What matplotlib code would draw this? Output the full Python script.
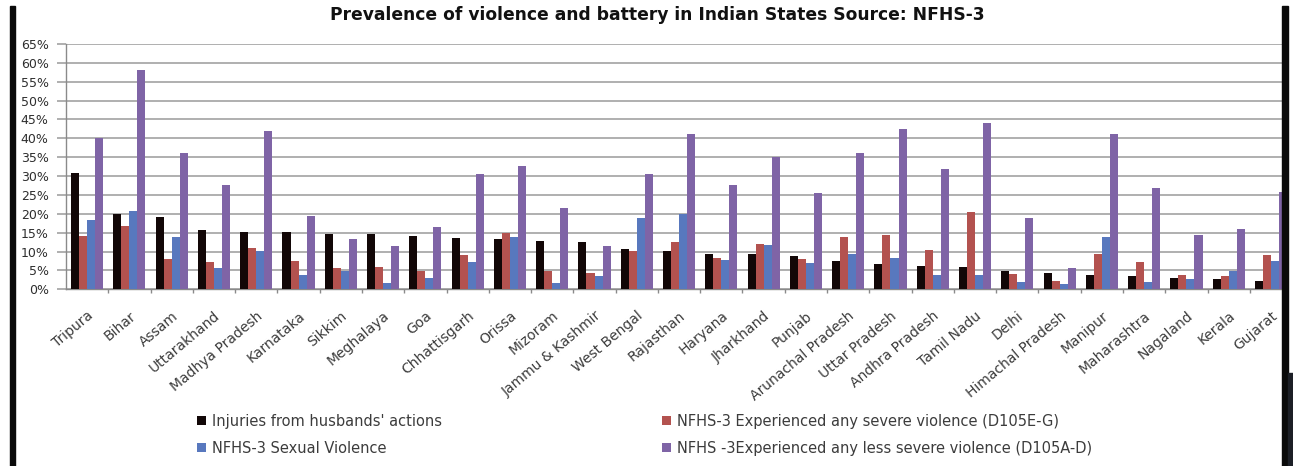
import numpy as np
import matplotlib
matplotlib.use('Agg')
import matplotlib.pyplot as plt
from matplotlib.patches import Rectangle
from matplotlib.ticker import FuncFormatter, FixedLocator

# ── Дані (%) ────────────────────────────────────────────────────────────────
states = ['Tripura', 'Bihar', 'Assam', 'Uttarakhand', 'Madhya Pradesh',
          'Karnataka', 'Sikkim', 'Meghalaya', 'Goa', 'Chhattisgarh', 'Orissa',
          'Mizoram', 'Jammu & Kashmir', 'West Bengal', 'Rajasthan', 'Haryana',
          'Jharkhand', 'Punjab', 'Arunachal Pradesh', 'Uttar Pradesh',
          'Andhra Pradesh', 'Tamil Nadu', 'Delhi', 'Himachal Pradesh',
          'Manipur', 'Maharashtra', 'Nagaland', 'Kerala', 'Gujarat']

injuries = [30.7, 19.9, 19.2, 15.6, 15.3, 15.3, 14.7, 14.7, 14.1, 13.5,
            13.4, 12.9, 12.5, 10.6, 10.2, 9.3, 9.3, 8.8, 7.5, 6.6,
            6.2, 6.0, 4.9, 4.4, 3.8, 3.5, 3.1, 2.7, 2.2]
severe = [14.0, 16.9, 7.9, 7.2, 11.0, 7.5, 5.7, 6.0, 4.9, 9.0,
          14.8, 4.9, 4.2, 10.2, 12.5, 8.2, 12.1, 8.0, 13.8, 14.3,
          10.4, 20.5, 4.0, 2.2, 9.4, 7.2, 3.7, 3.5, 9.1]
sexual = [18.4, 20.7, 13.8, 5.7, 10.2, 3.8, 4.9, 1.6, 3.1, 7.2,
          13.8, 1.6, 3.5, 18.8, 20.0, 7.8, 11.7, 6.9, 9.3, 8.4,
          3.7, 3.7, 2.0, 1.5, 13.8, 2.0, 2.7, 4.9, 7.5]
less_severe = [40.0, 58.0, 36.0, 27.7, 42.0, 19.3, 13.4, 11.6, 16.5, 30.5,
               32.7, 21.6, 11.5, 30.5, 41.1, 27.6, 35.0, 25.4, 36.0, 42.4,
               32.0, 44.0, 18.8, 5.7, 41.2, 26.9, 14.3, 16.0, 25.7]

series_labels = ["Injuries from husbands' actions",
                 'NFHS-3 Experienced any severe violence (D105E-G)',
                 'NFHS-3 Sexual Violence',
                 'NFHS -3Experienced any less severe violence (D105A-D)']

C = dict(inj='#120707', sev='#b3524f', sex='#5878be', less='#7f64a6',
         grid='#9a9a9a', axis='#8a8a8a', text='#3c3c3c')

W, H = 1293, 466
fig = plt.figure(figsize=(W / 100, H / 100), dpi=100)
fig.patch.set_facecolor('white')

# осі: ліво 66px, право 1282px, 0% на 289px, 65% на 44px
ax = fig.add_axes([66 / W, (H - 289.3) / H, (1282 - 66) / W, (289.3 - 44) / H])
ax.set_facecolor('white')

x = np.arange(len(states))
bw = 0.19
offs = [-1.5 * bw, -0.5 * bw, 0.5 * bw, 1.5 * bw]
vals = [injuries, severe, sexual, less_severe]
cols = [C['inj'], C['sev'], C['sex'], C['less']]
bars = []
for o, v, c, lab in zip(offs, vals, cols, series_labels):
    bars.append(ax.bar(x + o, v, width=bw, color=c, label=lab, zorder=3))

ax.set_xlim(-0.5, 28.26)
ax.set_ylim(0, 65)
ax.set_yticks(np.arange(0, 66, 5))
ax.yaxis.set_major_formatter(FuncFormatter(lambda v, p: f'{v:.0f}%'))
ax.grid(axis='y', color=C['grid'], linewidth=1.1, zorder=0)
ax.set_axisbelow(True)

for sp in ['top', 'right']:
    ax.spines[sp].set_visible(False)
for sp in ['left', 'bottom']:
    ax.spines[sp].set_color(C['axis'])
    ax.spines[sp].set_linewidth(1.0)

ax.tick_params(axis='y', length=6.5, color=C['grid'], width=1.1, pad=6,
               labelsize=9, labelcolor='#2e2e2e')
ax.set_xticks(x)
ax.set_xticklabels(states, rotation=40, ha='right', rotation_mode='anchor',
                   fontsize=10, color=C['text'])
ax.tick_params(axis='x', length=0, pad=14)
ax.xaxis.set_minor_locator(FixedLocator(x[:-1] + 0.5))
ax.tick_params(axis='x', which='minor', length=3, color=C['axis'], width=1)

# Заголовок
fig.text(657 / W, 1 - 15 / H,
         'Prevalence of violence and battery in Indian States Source: NFHS-3',
         ha='center', va='center', fontsize=12.3, fontweight='bold',
         color='#111111')

# Легенда — дві колонки (fig.legend сам додає обидві до фігури)
leg_kw = dict(loc='upper left', frameon=False, fontsize=10.5, handlelength=0.6,
              handleheight=0.6, handletextpad=0.45, labelspacing=0.82,
              borderpad=0, borderaxespad=0, labelcolor=C['text'])
fig.legend([bars[0], bars[2]], [series_labels[0], series_labels[2]],
           bbox_to_anchor=(197 / W, 1 - 414 / H), **leg_kw)
fig.legend([bars[1], bars[3]], [series_labels[1], series_labels[3]],
           bbox_to_anchor=(662 / W, 1 - 414 / H), **leg_kw)

# Рамка скріншота (чорні смуги по краях)
fig.patches.append(Rectangle((10 / W, 0), 5 / W, (H - 6) / H,
                             transform=fig.transFigure, color='#0a0a0a',
                             zorder=10))
fig.patches.append(Rectangle((1282 / W, 0), 6 / W, (H - 6) / H,
                             transform=fig.transFigure, color='#0a0a0a',
                             zorder=10))
fig.patches.append(Rectangle((1288 / W, 0), 5 / W, (H - 373) / H,
                             transform=fig.transFigure, color='#1c1f26',
                             zorder=10))

fig.savefig('out.png', dpi=100, facecolor='white')
